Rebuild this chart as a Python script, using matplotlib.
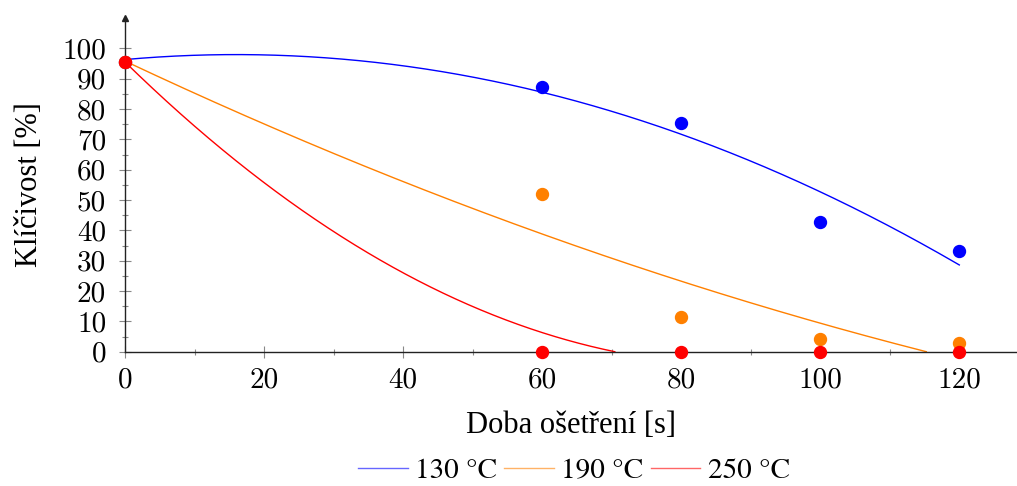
import numpy as np
import matplotlib
matplotlib.use('Agg')
import matplotlib.pyplot as plt
from matplotlib.lines import Line2D

#### Data ####
doba = [0, 60, 80, 100, 120]  # [s]
klicivost_130 = [95.5, 87.3, 75.4, 42.8, 33.2]
klicivost_190 = [95.5, 52.0, 11.5, 4.2, 2.8]
klicivost_250 = [95.5, 0.0, 0.0, 0.0, 0.0]
# quadratic trend lines y = c0 + c1*x + c2*x^2
trend_130 = [96.3, 0.205, -0.00641]
trend_190 = [95.8, -1.079, 0.00215]
trend_250 = [95.5, -2.239, 0.01254]
labels = ['130 °C', '190 °C', '250 °C']
colors = ['#0000ff', '#ff8000', '#ff0000']

#### Plot ####
fig = plt.figure(figsize=(10.17, 4.86), dpi=100)
ax = fig.add_axes([125/1017, 1-351.7/486, 1-125/1017, (351.7-18)/486])

x_fit = np.linspace(0, 120, 1200)
for coef, col in zip([trend_130, trend_190, trend_250], colors):
	y_fit = coef[0] + coef[1]*x_fit + coef[2]*x_fit**2
	### stop the trend where it reaches zero
	if (y_fit < 0).any():
		n = np.argmax(y_fit < 0)
		xs = np.append(x_fit[:n], x_fit[n-1] + (x_fit[n]-x_fit[n-1])*y_fit[n-1]/(y_fit[n-1]-y_fit[n]))
		ys = np.append(y_fit[:n], 0)
	else:
		xs, ys = x_fit, y_fit
	ax.plot(xs, ys, color=col, lw=1.0)
for vals, col in zip([klicivost_130, klicivost_190, klicivost_250], colors):
	ax.plot(doba, vals, 'o', color=col, ms=8.6, clip_on=False, zorder=5)

ax.set_xlim(0, 128.3)
ax.set_ylim(0, 110)
for s in ['top', 'right']:
	ax.spines[s].set_visible(False)
for s in ['left', 'bottom']:
	ax.spines[s].set_color('#222222')
	ax.spines[s].set_linewidth(1.0)
ax.plot(0, 1, marker='^', color='#222222', ms=4, transform=ax.transAxes, clip_on=False)

ax.set_xticks(np.arange(0, 121, 20))
ax.set_xticks(np.arange(10, 121, 20), minor=True)
ax.set_yticks(np.arange(0, 101, 10))
ax.set_yticks(np.arange(5, 101, 10), minor=True)
ax.tick_params(which='major', direction='inout', length=8, width=0.8, color='#888888', labelsize=21)
ax.tick_params(which='minor', direction='inout', length=4.5, width=0.8, color='#888888')
ax.tick_params(axis='y', which='major', pad=9.5)
ax.tick_params(axis='x', which='major', pad=7)
for lab in ax.get_xticklabels() + ax.get_yticklabels():
	lab.set_fontfamily('cmr10')

ax.set_xlabel('Doba ošetření [s]', fontsize=22, family='Liberation Serif', labelpad=13)
ax.set_ylabel('Klíčivost [%]', fontsize=22, family='Liberation Serif', labelpad=13)

handles = [Line2D([0], [0], color=c, lw=1.0, alpha=0.6) for c in colors]
fig.legend(handles, labels, loc='center', bbox_to_anchor=(574/1017, 1-471/486), ncol=3, frameon=False,
	prop={'family': 'STIXGeneral', 'size': 21}, handlelength=1.7, handletextpad=0.25, columnspacing=0.25,
	borderpad=0.1)

fig.savefig('out.png', dpi=100)
